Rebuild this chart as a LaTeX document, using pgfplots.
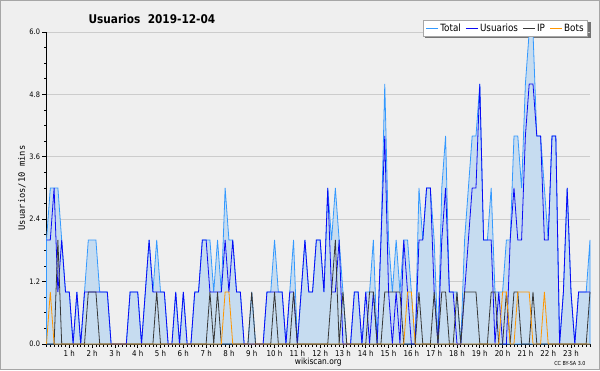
\documentclass[border=0pt]{standalone}
\usepackage{fontspec}
\setmainfont{DejaVu Sans}
\newfontfamily\condfont{DejaVu Sans}[FakeStretch=0.88]
\newfontfamily\monofont{DejaVu Sans Mono}
\usepackage{pgfplots}
\pgfplotsset{compat=1.18}
\usepackage{pgfplotstable}

\definecolor{bgc}{RGB}{239,239,239}
\definecolor{fillc}{RGB}{198,220,240}
\definecolor{totc}{RGB}{51,153,255}
\definecolor{usc}{RGB}{10,10,245}
\definecolor{ipc}{RGB}{55,55,55}
\definecolor{botc}{RGB}{255,150,0}

\pgfplotstableread{
i U I B
0 2 0 0
1 2 0 1
2 3 0 0
3 1 2 0
4 2 0 0
5 1 0 0
6 1 0 0
7 0 0 0
8 1 0 0
9 0 0 0
10 1 0 0
11 1 1 0
12 1 1 0
13 1 1 0
14 1 0 0
15 1 0 0
16 1 0 0
17 0 0 0
18 0 0 0
19 0 0 0
20 0 0 0
21 0 0 0
22 1 0 0
23 1 0 0
24 1 0 0
25 0 0 0
26 1 0 0
27 2 0 0
28 1 0 0
29 1 1 0
30 1 0 0
31 1 0 0
32 0 0 0
33 0 0 0
34 1 0 0
35 0 0 0
36 1 0 0
37 0 0 0
38 0 0 0
39 1 0 0
40 1 0 0
41 2 0 0
42 2 0 0
43 1 1 0
44 1 0 0
45 1 1 0
46 1 0 0
47 2 0 1
48 1 0 1
49 2 0 0
50 1 0 0
51 1 0 0
52 0 0 0
53 0 0 0
54 0 1 0
55 0 0 0
56 0 0 0
57 0 0 0
58 1 0 0
59 1 0 0
60 1 1 0
61 1 0 0
62 1 0 0
63 0 0 0
64 1 0 0
65 1 1 0
66 0 0 0
67 1 0 0
68 2 0 0
69 1 0 0
70 1 0 0
71 2 0 0
72 2 0 0
73 1 0 0
74 3 0 0
75 1 1 0
76 1 2 0
77 2 0 0
78 0 1 0
79 0 0 0
80 0 0 0
81 1 0 0
82 1 0 0
83 0 0 0
84 1 0 0
85 0 1 0
86 1 1 0
87 0 0 0
88 2 0 0
89 4 1 0
90 1 1 0
91 0 1 0
92 1 1 0
93 0 1 0
94 2 0 0
95 1 0 1
96 0 0 1
97 0 0 0
98 2 1 0
99 2 0 0
100 3 0 0
101 3 0 0
102 1 1 0
103 0 0 0
104 2 1 0
105 3 1 0
106 1 0 0
107 1 0 0
108 0 1 0
109 0 0 0
110 1 1 0
111 2 1 0
112 3 1 0
113 3 1 0
114 5 0 0
115 2 0 0
116 2 0 0
117 2 1 0
118 0 1 0
119 1 0 0
120 0 0 1
121 0 1 1
122 2 0 0
123 3 1 0
124 2 1 1
125 2 0 1
126 4 0 1
127 5 0 1
128 5 1 0
129 4 0 0
130 4 0 0
131 2 0 1
132 2 0 0
133 4 0 0
134 4 0 0
135 0 0 0
136 1 0 0
137 3 0 0
138 1 0 0
139 0 0 0
140 1 0 0
141 1 0 0
142 1 0 0
143 1 1 0
}\data
\pgfplotstablecreatecol[expr={\thisrow{U}+\thisrow{I}+\thisrow{B}}]{T}{\data}

\begin{document}
\begin{tikzpicture}
\fill[bgc] (0pt,0pt) rectangle (600pt,370pt);
\draw[black!35,line width=1pt] (0.5pt,0.5pt) rectangle (599.5pt,369.5pt);
\node[font=\condfont\bfseries\fontsize{12}{14}\selectfont,anchor=west] at (85pt,351pt) {Usuarios\ \ 2019-12-04};
% legend shadow
\fill[black!55] (424.5pt,332pt) rectangle (591pt,348pt);
\begin{axis}[
  at={(46.5pt,26pt)}, anchor=south west,
  scale only axis, width=543.5pt, height=312pt,
  xmin=0, xmax=143, ymin=0, ymax=6,
  axis lines*=left,
  axis line style={black, line width=0.8pt},
  xtick={6,12,...,138},
  xticklabels={1 h,2 h,3 h,4 h,5 h,6 h,7 h,8 h,9 h,10 h,11 h,12 h,13 h,14 h,15 h,16 h,17 h,18 h,19 h,20 h,21 h,22 h,23 h},
  minor xtick={0,1,...,143},
  ytick={0,1.2,2.4,3.6,4.8,6},
  yticklabels={0.0,1.2,2.4,3.6,4.8,6.0},
  minor ytick={0.3,0.6,0.9,1.5,1.8,2.1,2.7,3.0,3.3,3.9,4.2,4.5,5.1,5.4,5.7},
  tick align=outside,
  major tick length=4pt, minor tick length=2.5pt,
  tick style={black, line width=0.7pt},
  ymajorgrids, grid style={black!20, line width=0.8pt},
  x tick label style={font=\condfont\fontsize{8}{9}\selectfont, yshift=1.5pt},
  y tick label style={font=\condfont\fontsize{7.5}{9}\selectfont, xshift=1pt},
  xlabel={wikiscan.org},
  xlabel style={font=\condfont\fontsize{8.5}{10}\selectfont, yshift=5pt},
  ylabel={Usuarios/10 mins},
  ylabel style={font=\monofont\fontsize{8.8}{10}\selectfont, yshift=-3pt},
  legend columns=4,
  legend style={at={(rel axis cs:0.9963,1.0385)}, anchor=north east,
    draw=black!35, fill=white, line width=0.6pt,
    font=\condfont\fontsize{10}{12}\selectfont,
    inner xsep=2.5pt, inner ysep=2pt,
    nodes={inner sep=1.6pt},
    /tikz/every even column/.append style={column sep=3pt}},
  legend image code/.code={\draw[#1, line width=0.9pt] (0pt,0pt) -- (12pt,0pt);},
  clip=false,
]
\addplot[color=totc, line width=0.8pt, fill=fillc] table[x=i,y=T] {\data} \closedcycle;
\addlegendentry{Total}
\addplot[color=usc, line width=0.8pt] table[x=i,y=U] {\data};
\addlegendentry{Usuarios}
\addplot[color=ipc, line width=0.8pt] table[x=i,y=I] {\data};
\addlegendentry{IP}
\addplot[color=botc, line width=0.8pt] table[x=i,y=B] {\data};
\addlegendentry{Bots}
\end{axis}
\node[font=\condfont\fontsize{5.5}{6}\selectfont,anchor=east] at (589pt,7pt) {CC BY-SA 3.0};
\end{tikzpicture}
\end{document}
